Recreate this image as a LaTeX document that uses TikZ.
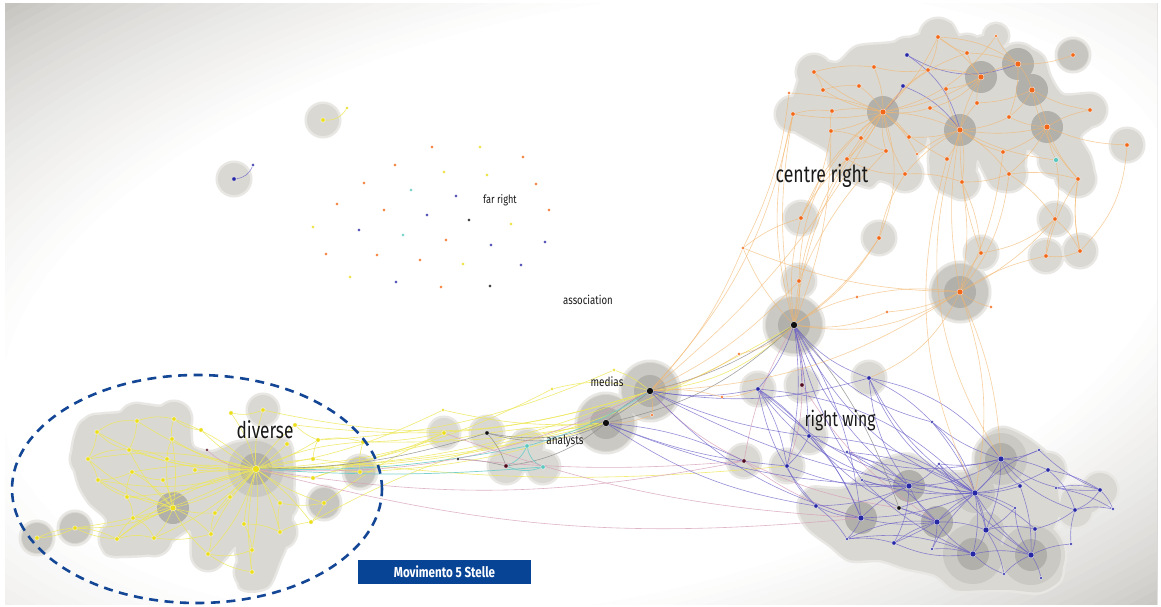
\documentclass[tikz,border=0pt]{standalone}
\usepackage{fontspec}
\newfontfamily\lab[FakeStretch=0.8]{Fira Sans}
\newfontfamily\labA[FakeStretch=0.75]{Fira Sans}
\definecolor{bgd}{RGB}{182,180,174}
\definecolor{blobc}{RGB}{217,216,211}
\definecolor{blobsoft}{RGB}{232,231,227}
\definecolor{haloc}{RGB}{202,201,195}
\definecolor{corec}{RGB}{178,176,170}
\definecolor{isoc}{RGB}{200,198,193}
\definecolor{cy}{RGB}{236,222,24}
\definecolor{co}{RGB}{243,104,24}
\definecolor{cb}{RGB}{38,40,165}
\definecolor{ck}{RGB}{15,15,15}
\definecolor{cm}{RGB}{80,10,30}
\definecolor{cc}{RGB}{90,200,190}
\definecolor{ey}{RGB}{238,232,90}
\definecolor{eo}{RGB}{244,182,108}
\definecolor{eb}{RGB}{105,95,200}
\definecolor{ep}{RGB}{215,160,185}
\definecolor{eg}{RGB}{140,140,140}
\definecolor{ec}{RGB}{110,205,200}
\definecolor{m5blue}{RGB}{8,68,150}
\definecolor{dashc}{RGB}{20,70,150}
\definecolor{txt}{RGB}{25,25,25}
\pgfdeclarelayer{blobl}
\pgfdeclarelayer{edgel}
\pgfdeclarelayer{bgl}
\pgfsetlayers{bgl,blobl,edgel,main}
\tikzset{
  dt/.style={circle, inner sep=0pt, minimum size=4.4pt, draw=white, line width=0.3pt},
  sm/.style={minimum size=3.2pt},
  hb/.style={minimum size=7pt},
  Yd/.style={dt, fill=cy}, Od/.style={dt, fill=co}, Bd/.style={dt, fill=cb},
  Kd/.style={dt, fill=ck}, Rd/.style={dt, fill=cm}, Cd/.style={dt, fill=cc},
  ye/.style={draw=ey, line width=0.6pt, opacity=0.85},
  eoe/.style={draw=eo, line width=0.6pt, opacity=0.65},
  ebe/.style={draw=eb, line width=0.6pt, opacity=0.7},
  epe/.style={draw=ep, line width=0.6pt, opacity=0.8},
  ege/.style={draw=eg, line width=0.6pt, opacity=0.8},
  ece/.style={draw=ec, line width=0.7pt, opacity=0.9},
  lbl/.style={text=txt, inner sep=0pt},
  soft/.style={draw=blobsoft, line width=5pt},
}
\def\blobs{ya/17pt, yb/17pt, yc/17pt, ye/17pt, yf/17pt, yg/17pt, yh/17pt, yi/17pt, yk/17pt, yl/17pt, ym/17pt, yn/17pt, yo/17pt, yp/17pt, ys/16pt, yt/16pt, yu/16pt, yv/16pt, yw/17pt, yx/16pt, yy/17pt, yI/16pt, yJ/16pt, yj/16pt, yB/15pt, Y0/30pt, Y1/18pt, iy1/16pt, ib1/16pt, m1/15pt, m2/16pt, m3/16pt, m4/16pt, m5/17pt, M7/29pt, M8/29pt, b1/16pt, b2/16pt, b3/16pt, b4/16pt, b5/16pt, b6/17pt, b10/17pt, B11/19pt, b12/17pt, B13/21pt, B15/27pt, B16/22pt, b20/17pt, b18/17pt, B22/20pt, B23/20pt, b24/17pt, b25/17pt, b26/17pt, b29/16pt, B31/35pt, B32/34pt, b21/16pt, o1/18pt, o2/12pt, o3/18pt, p1/17pt, O4/20pt, O5/19pt, o6/18pt, o7/18pt, o8/17pt, p2/18pt, o10/18pt, O11/20pt, o12/18pt, o13/18pt, O15/20pt, O16/20pt, o17/18pt, o18/18pt, o19/16pt, O20/19pt, o21/18pt, o22/17pt, o23/18pt, o24/18pt, o25/18pt, o26/18pt, o27/18pt, o29/18pt, o30/18pt, c1/17pt, o32/18pt, o33/17pt, o34/17pt, o35/17pt, o36/17pt, o31/16pt, o37/16pt, o38/16pt, o39/16pt, o40/16pt, o41/16pt, o42/16pt, o44/16pt, K1/29pt, O47/29pt, yr/16pt, yq/16pt, yz/16pt, yA/16pt, o9/16pt}
\def\fills{520/455/16pt, 1088/500/13pt, 1075/500/14pt}
\def\hullD{plot[smooth cycle] coordinates {(82,422) (100,415) (120,413) (127,407) (143,405) (160,407) (173,403) (187,408) (190,427) (193,447) (213,452) (235,443) (260,440) (287,440) (293,460) (293,493) (290,533) (280,560) (267,587) (240,587) (237,547) (223,560) (207,568) (193,557) (190,530) (170,542) (160,553) (110,555) (102,540) (107,520) (90,503) (80,487) (75,470) (72,457) (75,437)}}
\def\hullC{plot[smooth cycle] coordinates {(780,110) (793,97) (800,77) (810,58) (837,63) (857,47) (893,43) (923,33) (933,22) (950,23) (963,40) (993,35) (1007,50) (1027,48) (1043,57) (1050,77) (1063,95) (1090,95) (1105,110) (1093,125) (1080,137) (1090,157) (1093,177) (1080,193) (1060,187) (1053,170) (1040,157) (1027,150) (1023,173) (1010,190) (993,187) (983,170) (977,160) (973,187) (960,197) (940,190) (930,173) (930,140) (923,137) (917,153) (917,180) (903,187) (880,180) (870,187) (850,180) (837,167) (827,150) (810,140) (793,130) (782,120)}}
\def\hullR{plot[smooth cycle] coordinates {(800,500) (812,488) (845,488) (880,462) (910,455) (940,470) (970,470) (985,437) (1003,428) (1025,437) (1045,452) (1062,470) (1058,490) (1060,512) (1052,535) (1062,560) (1060,580) (1040,592) (1010,590) (985,590) (955,590) (935,575) (905,568) (880,560) (850,560) (830,545) (810,530) (800,515)}}
\begin{document}
\begin{tikzpicture}[x=1pt, y=-1pt]
\useasboundingbox (0,0) rectangle (1161,607);
\begin{pgfonlayer}{bgl}
\fill[white] (0,0) rectangle (1161,607);
\begin{scope}
\clip (5,4) rectangle (1157,604);
\fill[bgd] (5,4) rectangle (1157,604);
\foreach \s in {1.7,1.675,...,0.99}{
  \pgfmathsetmacro\p{min(100,100*((1.7-\s)/0.7)^0.6)}
  \fill[white!\p!bgd, rotate around={12:(590,300)}] (590,305) ellipse [x radius=600*\s pt, y radius=295*\s pt];
}
\end{scope}
\end{pgfonlayer}

% ---------- nodes: diverse cluster ----------
\node[Yd,hb] (Y0) at (256,469) {};
\node[Yd,hb,minimum size=6pt] (Y1) at (173,508) {};
\foreach \n/\x/\y in {ya/97/432, yb/137/421, yc/174/419, yd/201/430, ye/172/439, yf/129/450, yg/88/459, yh/167/459, yi/132/472, yj/195/470, yk/98/480, yl/163/480, ym/127/497, yn/133/518, yo/117/539, yp/154/538, yq/75/528, yr/37/538, ys/211/534, yt/208/554, yu/244/524, yv/252/550, yw/252/572, yx/280/532, yy/280/503, yz/324/503, yA/360/472, yB/263/410, yC/231/413, yD/295/425, yE/318/440, yF/313/459, yG/313/478, yH/311/522, yI/230/497, yJ/215/513, yK/363/442, yL/287/444}
  \node[Yd] (\n) at (\x,\y) {};
\node[Rd,sm] (rm) at (207,450) {};

% isolated pairs
\node[Yd] (iy1) at (323,120) {};
\node[Yd,sm] (iy2) at (347,108) {};
\node[Bd] (ib1) at (234,179) {};
\node[Bd,sm] (ib2) at (253,165) {};

% far right scatter
\foreach \n/\x/\y/\s in {f1/432/147/Od, f2/480/147/Yd, f3/523/157/Od, f4/395/165/Od, f5/444/172/Yd, f6/487/175/Yd, f7/364/183/Od, f8/536/184/Od, f9/411/190/Cd, f10/456/196/Bd, f11/337/204/Od, f12/384/210/Od, f13/427/215/Bd, f14/549/210/Od, f15/313/227/Yd, f16/469/220/Kd, f17/511/224/Yd, f18/359/230/Bd, f19/403/235/Cd, f20/446/240/Od, f21/491/245/Bd, f22/545/242/Bd, f23/326/254/Od, f24/377/255/Od, f25/420/260/Od, f26/463/264/Yd, f27/521/265/Bd, f28/350/277/Yd, f29/396/282/Bd, f30/441/287/Od, f31/490/286/Kd}
  \node[\s,sm] (\n) at (\x,\y) {};

% middle
\node[Yd] (m1) at (444,433) {};
\node[Kd] (m2) at (487,433) {};
\node[Cd] (m3) at (527,446) {};
\node[Cd] (m4) at (543,467) {};
\node[Rd] (m5) at (506,466) {};
\node[Kd,sm] (m6) at (458,459) {};
\node[Kd,hb] (M7) at (606,423) {};
\node[Kd,hb] (M8) at (650,391) {};
\node[Od,sm] (m9) at (652,415) {};
\node[Yd,sm] (m10) at (443,410) {};
\node[Yd,sm] (m11) at (552,389) {};
\node[Yd,sm] (m12) at (614,370) {};

% right wing
\foreach \n/\x/\y in {b1/758/389, b3/869/378, b5/787/466, b6/809/436, b10/816/506, b18/1048/470, b20/1020/486, b24/1035/529, b25/1075/510, b26/1100/490, b29/894/543}
  \node[Bd] (\n) at (\x,\y) {};
\foreach \n/\x/\y in {b7/932/422, b8/847/452, b9/862/480, b14/939/464, b17/1039/450, b19/1056/488, b21/1015/508, b27/1113/509, b28/847/539, b30/932/549, b33/1004/574, b34/1041/578, b35/1071/544}
  \node[Bd,sm] (\n) at (\x,\y) {};
\foreach \n/\x/\y in {B11/861/518, B13/909/486, B15/1001/459, B16/975/493, B22/937/522, B23/986/530, B31/973/554, B32/1031/555}
  \node[Bd,hb,minimum size=6pt] (\n) at (\x,\y) {};
\node[Rd] (b2) at (802,385) {};
\node[Rd] (b4) at (744,461) {};
\node[Kd] (b12) at (899,508) {};

% centre right
\foreach \n/\x/\y in {o1/938/37, o3/967/53, o6/928/70, o7/874/67, o8/814/72, o9/1073/55, o10/946/89, o12/859/86, o13/823/90, o17/930/108, o18/977/103, o19/1090/110, o21/1009/117, o22/793/114, o23/832/111, o24/831/131, o25/861/138, o26/909/137, o27/886/151, o29/947/159, o30/1003/152, o31/1127/145, o32/847/159, o33/905/174, o34/962/182, o35/1009/174, o36/1078/179, o37/801/218, o38/879/238, o39/1055/219, o40/1080/251, o41/1046/256, o42/981/253, o44/799/281}
  \node[Od] (\n) at (\x,\y) {};
\foreach \n/\x/\y in {o2/996/36, o14/789/93, o28/917/154, o43/743/248, o45/857/297, o46/887/312, o48/991/307, o49/739/354, o50/722/397}
  \node[Od,sm] (\n) at (\x,\y) {};
\foreach \n/\x/\y in {O4/1018/64, O5/981/77, O11/1032/90, O15/883/112, O16/960/130, O20/1047/127, O47/960/292}
  \node[Od,hb,minimum size=6pt] (\n) at (\x,\y) {};
\node[Bd] (p1) at (907,55) {};
\node[Bd] (p2) at (903,86) {};
\node[Cd,minimum size=5pt] (c1) at (1056,160) {};
\node[Kd,hb] (K1) at (794,325) {};

% ---------- blobs ----------
\begin{pgfonlayer}{blobl}
% soft rims
\draw[soft] foreach \n/\r in \blobs {(\n) circle (\r)} foreach \x/\y/\r in \fills {(\x,\y) circle (\r)};
\draw[soft] \hullD;
\draw[soft] \hullC;
\draw[soft] \hullR;
% fills
\fill[blobc] \hullD;
\fill[blobc] \hullC;
\fill[blobc] \hullR;
\fill[blobc] foreach \n/\r in \blobs {(\n) circle (\r)} foreach \x/\y/\r in \fills {(\x,\y) circle (\r)};
% isolated medium circles
\fill[isoc] foreach \n in {yr, yq, yz, yA, o9} {(\n) circle (15pt)};
% hub halos
\fill[haloc] foreach \n in {Y0, M7, M8, K1, O47} {(\n) circle (28pt)};
\fill[haloc] foreach \n/\r in {B15/26pt, B31/30pt, B32/30pt, B16/20pt, B23/18pt} {(\n) circle (\r)};
\fill[corec] foreach \n in {Y0, Y1, M7, M8, K1, O47, B11, B13, B15, B31, B32, B22, O4, O5, O11, O15, O16, O20} {(\n) circle (16pt)};
\end{pgfonlayer}

% ---------- edges ----------
\begin{pgfonlayer}{edgel}
\foreach \a/\b/\c in {Y0/yb/10, Y0/yc/-10, Y0/yd/8, Y0/ye/12, Y0/yf/10, Y0/yh/6, Y0/yi/-8, Y0/yj/5, Y0/yl/-6, Y0/ym/8, Y0/yn/-10, Y0/yp/10, Y0/ys/-8, Y0/yt/12, Y0/yu/-6, Y0/yv/8, Y0/yw/-10, Y0/yx/6, Y0/yy/-8, Y0/yI/5, Y0/yJ/-5, Y0/yB/10, Y0/yC/-10, Y0/yD/8, Y0/yE/-6, Y0/yF/5, Y0/yG/-5, Y0/yH/8, Y0/yL/-5, Y0/yK/10, Y0/yz/-8, Y0/yA/6, Y0/Y1/10, Y0/yg/-12, Y0/yk/14, Y0/yo/-12, Y0/ya/15, Y0/yq/10,
  Y1/yf/10, Y1/yi/-10, Y1/yk/8, Y1/ym/-10, Y1/yn/10, Y1/yo/-8, Y1/yp/10, Y1/yl/-10, Y1/yh/10, Y1/ye/-8, Y1/ys/10, Y1/yt/-10, Y1/yq/12, Y1/yg/10, Y1/yJ/-8,
  ya/yb/20, ya/yf/-15, ya/yg/10, yb/yc/15, yc/yd/-15, yg/yk/10, yk/ym/-10, ym/yn/12, yn/yo/-10, yo/yp/15, yq/yr/10, yq/yo/-10, yr/yo/25, yp/ys/-10, ys/yt/10, yt/yw/-12, yu/yv/10, yv/yw/-10, yx/yy/12, yy/yz/-10, yz/yH/10, yA/yG/-15, yF/yE/10, yi/yl/-10, yf/yh/12, ye/yh/-10, yb/yf/10, yc/ye/-12, yn/yp/20, ym/yi/15, yk/yi/-10, yg/yf/15, yH/yx/-10, yu/yx/12, yt/yv/-15, yI/yJ/10, yJ/ys/-10, yB/yC/15, yD/yE/-10, yE/yK/12, yK/yA/-10,
  Y0/m1/-12, Y0/M8/-10, Y0/M7/-6, Y0/m10/-8, Y0/m11/-12, yD/M8/-12, yK/M7/-5, yE/m12/-10, yA/M7/-8, yz/m1/6, yG/M7/8, yK/m1/-5, iy1/iy2/-30, Y0/K1/-15, yF/b5/-6, yH/M7/10, m12/M8/10, m11/M8/15, m10/M7/-8, yB/M8/-15, M8/K1/-18}
  \draw[ye] (\a) to[bend left=\c] (\b);
\foreach \a/\b/\c in {Y0/m2/-8, m2/m5/10, m2/M7/-20, m5/M7/-15, m6/m5/5, M7/M8/10, M8/K1/-10, M7/K1/-15, K1/b12/10, m2/M8/-25}
  \draw[ege] (\a) to[bend left=\c] (\b);
\foreach \a/\b/\c in {m3/m4/-25, m3/m5/20, m5/m4/-20, m3/M8/-8, Y0/m3/-6, Y0/m4/-4}
  \draw[ece] (\a) to[bend left=\c] (\b);
\foreach \a/\b/\c in {rm/Y0/-20, Y0/M8/-14, Y0/b4/-10, m1/B11/-8, b4/M8/10, b4/B11/-10, b4/b12/-8, b4/K1/10, b2/K1/-10, b2/b5/10, b2/B22/-12, m6/b4/-5, Y0/B11/-10}
  \draw[epe] (\a) to[bend left=\c] (\b);
\foreach \a/\b/\c in {ib1/ib2/-30, p1/O4/-25, p1/O16/20, p2/O15/10, p2/O16/15, M7/B13/-10, M7/b5/-8, M7/b10/-12, M8/b1/-10, M8/B11/-15, M8/b6/-8, M8/B16/-10, M8/b3/-12, M7/b4/10,
  K1/b1/10, K1/b2/5, K1/b3/-15, K1/B13/-15, K1/b5/10, K1/b6/5, K1/B11/12, K1/B16/-20, K1/b7/-20, K1/b9/-10,
  B16/B15/-10, B16/B13/10, B16/B22/-10, B16/B23/8, B16/B31/10, B16/B32/-10, B16/b14/5, B16/b20/-8, B16/b21/8, B16/b18/-10, B16/b17/12, B16/b7/-15, B16/b9/10, B16/b12/-8, B16/b24/10, B16/b30/-10, B16/b29/8, B16/b8/-12, B16/B11/10, B16/b1/-20, B16/b3/20, B16/b6/-15,
  B15/b17/-10, B15/b18/10, B15/b20/-15, B15/B13/15, B15/B23/10, B15/b25/-15, B15/b26/-20, B15/b14/10,
  B13/B11/-10, B13/b10/10, B13/B22/-12, B13/b29/12, B13/b8/-10, B13/b9/10, B13/b14/-12,
  B22/B11/10, B22/b29/-10, B22/b30/10, B22/B31/-12, B22/B23/10, B22/b28/-15,
  B23/B31/10, B23/B32/-10, B23/b24/12, B23/b21/-10, B23/b33/10,
  B31/b30/-10, B31/B32/12, B31/b33/-10, B31/b29/15, B31/b28/-15,
  B32/b34/10, B32/b24/-12, B32/b35/10, B32/b33/-10, B32/b21/15,
  b25/b26/-15, b25/b27/12, b25/b18/-15, b25/b24/10, b25/b35/-10, b26/b27/10, b26/b19/-15,
  b3/B13/-15, b3/B15/20, b3/b7/10, b1/b5/10, b1/b10/-15, b1/B11/15, b1/B13/-20, b6/B11/10, b6/B22/-15, b6/b5/10, b10/B11/-10, b10/b28/10, b5/b10/-12, b7/B15/-10, b7/B23/12, b8/B22/10, b9/B31/-10, b17/b26/-10, b18/b26/10, b19/b27/10, b14/B32/-10, b20/B32/10, b12/B22/5, B11/b28/10, b29/b28/-10, b6/B15/-20, b3/B16/-15, b1/B16/-18, b1/b6/10, b5/B13/-12}
  \draw[ebe] (\a) to[bend left=\c] (\b);
\foreach \a/\b/\c in {K1/o44/-10, K1/o37/10, K1/o38/-12, K1/O15/15, K1/o22/10, K1/O47/-20, K1/o45/10, K1/o49/15, K1/o43/10, K1/o46/-15, K1/o24/-10,
  M8/o44/-10, M8/O47/-15, M8/o43/-10, M8/O15/-10, M8/m9/10, M7/m9/-10, M8/o50/10, o50/b1/-10, o49/M8/10, M8/o22/-15,
  O47/o42/10, O47/o39/-10, O47/o41/10, O47/o48/-10, O47/o46/10, O47/o45/-10, O47/B15/10, O47/B16/15, O47/O16/10, O47/o43/10, O47/o34/-10, O47/b3/20,
  o39/o40/10, o39/o41/-10, o40/o41/15, o42/o39/-15, o39/c1/-10, o40/o36/10, o40/o31/-20, o41/o36/10,
  O15/o7/-10, O15/o8/10, O15/o12/-10, O15/o13/10, O15/o14/-8, O15/o22/10, O15/o23/-10, O15/o24/10, O15/o25/-10, O15/o26/10, O15/o27/-10, O15/o32/10, O15/o33/-10, O15/o6/10, O15/o17/-10, O15/O16/10, O15/o2/-20, O15/o3/15, O15/o1/-10, O15/o38/20, O15/o37/-15, O15/O5/-10, O15/o28/10, O15/o29/-8,
  O16/o10/10, O16/o17/-10, O16/o18/10, O16/o21/-10, O16/o26/10, O16/o28/-10, O16/o29/10, O16/o30/-10, O16/o34/10, O16/o33/-10, O16/O5/10, O16/O20/-10, O16/o35/10, O16/c1/-10,
  O5/o3/10, O5/o6/-10, O5/o10/10, O5/o18/-10, O5/O4/10, O5/o1/-10, O5/o17/15,
  O4/o2/10, O4/o3/-10, O4/O11/10, O4/o9/-10, O4/o21/10, O4/o1/-15,
  O11/O20/10, O11/o19/-10, O11/o21/10, O11/o36/-15, O11/o18/10,
  O20/o19/10, O20/c1/-10, O20/o35/10, O20/o36/-10, O20/o30/10, O20/o31/-10, O20/o21/10,
  o7/o8/-10, o8/o13/10, o12/o13/-10, o22/o23/10, o23/o24/-10, o24/o25/10, o25/o27/-10, o27/o32/10, o32/o33/-15, o33/o34/10, o34/o35/-10, o35/o36/10, o1/o3/-10, o6/o7/10, o1/o6/10,
  o32/o37/-10, o24/o37/10, o33/o38/-10, o34/o42/10, o36/o40/-10, o30/O47/10, o25/K1/-15, o29/B16/-20, O16/B15/-25, o35/O47/15, o27/o44/-10, o38/K1/10, o37/o43/-10, O15/o44/-25, o14/o43/10, o22/K1/-15, o42/O16/10, o35/o39/10}
  \draw[eoe] (\a) to[bend left=\c] (\b);
\end{pgfonlayer}

% ---------- labels ----------
\node[lbl, font=\labA\fontsize{23}{23}\selectfont] (tdiv) at (265,430) {diverse};
\node[lbl, font=\labA\fontsize{23.5}{23.5}\selectfont] (tcr) at (822,176) {centre right};
\node[lbl, font=\labA\fontsize{21}{21}\selectfont] (trw) at (840,421) {right wing};
\node[lbl, font=\lab\fontsize{12.5}{12.5}\selectfont] (tmed) at (607,382) {medias};
\node[lbl, font=\lab\fontsize{12.5}{12.5}\selectfont] (tan) at (565,441) {analysts};
\node[lbl, font=\lab\fontsize{11.5}{11.5}\selectfont] (tfr) at (500,200) {far right};
\node[lbl, font=\lab\fontsize{12}{12}\selectfont] (tas) at (588,300) {association};

% Movimento 5 Stelle
\draw[dashc, line width=2.6pt, dash pattern=on 9pt off 6.5pt] (197,489) ellipse [x radius=185pt, y radius=114pt];
\node[fill=m5blue, text=white, minimum width=173pt, minimum height=24pt, inner sep=0pt, font=\lab\bfseries\fontsize{14.5}{14.5}\selectfont] (m5s) at (444.5,572) {Movimento 5 Stelle};
\end{tikzpicture}
\end{document}
